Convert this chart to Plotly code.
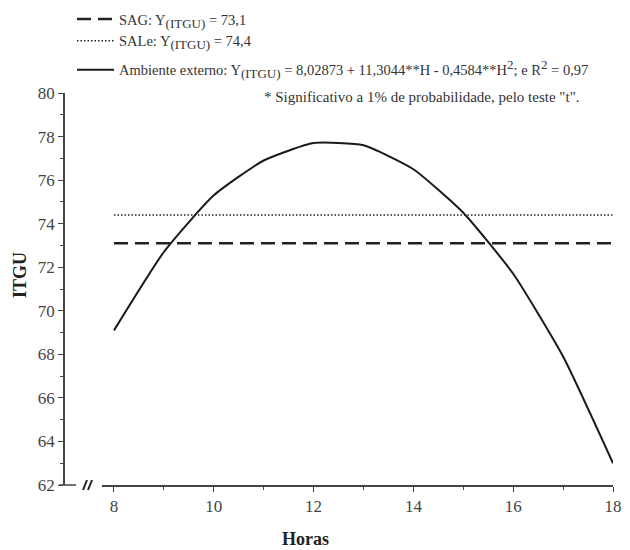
import plotly.graph_objects as go

# values
horas = [8, 9, 10, 11, 12, 13, 14, 15, 16, 17, 18]
itgu_externo = [69.1, 72.7, 75.3, 76.9, 77.7, 77.6, 76.5, 74.5, 71.7, 67.9, 63.0]
sag_x = [8, 18]
sag_y = [73.1, 73.1]
sale_x = [8, 18]
sale_y = [74.4, 74.4]

sub = '<sub><span style="font-size:13px">(ITGU)</span></sub>'
sq = '<sup><span style="font-size:13px">2</span></sup>'
nome_sag = "SAG: Y" + sub + " = 73,1"
nome_sale = "SALe: Y" + sub + " = 74,4"
nome_ext = ("Ambiente externo: Y" + sub + " = 8,02873 + 11,3044**H - 0,4584**H" + sq
            + "; e R" + sq + " = 0,97")

serif = "Liberation Serif"
OFF = 8  # page body margin
W, H = 630 - OFF, 550 - OFF
L, R, T, B = 56, 17, 85, 65
pw = W - L - R
ph = H - T - B


# screen pixel -> paper fraction
def px(x):
    return (x - OFF - L) / pw


def py(y):
    return (H - B - (y - OFF)) / ph


fig = go.Figure()
fig.add_trace(go.Scatter(x=sag_x, y=sag_y, mode="lines", name=nome_sag, legendgroup="a",
                         line=dict(color="#222", width=2.5, dash="14px,7px")))
fig.add_trace(go.Scatter(x=sale_x, y=sale_y, mode="lines", name=nome_sale, legendgroup="a",
                         line=dict(color="#222", width=1.6, dash="1.5px,2px")))
fig.add_trace(go.Scatter(x=horas, y=itgu_externo, mode="lines", name=nome_ext, legendgroup="b",
                         line=dict(color="#1a1a1a", width=2, shape="spline", smoothing=0.5)))

fig.update_layout(
    width=W, height=H,
    margin=dict(l=L, r=R, t=T, b=B, autoexpand=False),
    plot_bgcolor="white", paper_bgcolor="white",
    font=dict(family=serif, color="#444", size=17),
    showlegend=True,
    legend=dict(x=px(72), y=py(3), xanchor="left", yanchor="top",
                font=dict(size=14.5, color="#333"), bgcolor="rgba(0,0,0,0)",
                itemwidth=37, tracegroupgap=7, traceorder="grouped"),
)

fig.update_xaxes(
    domain=[px(102), 1], range=[7.76, 18],
    showline=True, linecolor="#444", linewidth=1.5,
    ticks="outside", ticklen=5, tickcolor="#444", tickvals=[8, 10, 12, 14, 16, 18],
    minor=dict(ticks="outside", ticklen=3, tickvals=[9, 11, 13, 15, 17], tickcolor="#444"),
    showgrid=False, zeroline=False,
)
fig.update_yaxes(
    anchor="free", position=0, range=[62, 80],
    showline=True, linecolor="#444", linewidth=1.5,
    ticks="outside", ticklen=5, tickcolor="#444", dtick=2,
    minor=dict(ticks="outside", ticklen=3, dtick=1, tickcolor="#444"),
    showgrid=False, zeroline=False,
)

# axis titles
fig.add_annotation(text="<b>ITGU</b>", xref="paper", yref="paper", x=px(20), y=py(275),
                   xanchor="center", yanchor="middle",
                   textangle=-90, showarrow=False, font=dict(size=18, color="#222"))
fig.add_annotation(text="<b>Horas</b>", xref="paper", yref="paper", x=px(305), y=py(539),
                   xanchor="center", yanchor="middle",
                   showarrow=False, font=dict(size=18, color="#222"))
fig.add_annotation(text="* Significativo a 1% de probabilidade, pelo teste \"t\".",
                   xref="paper", yref="paper", x=px(262), y=py(97), xanchor="left",
                   yanchor="middle", showarrow=False, font=dict(size=15, color="#333"))

# axis break marks
fig.add_shape(type="line", xref="paper", yref="paper", x0=px(59), x1=px(76),
              y0=py(485), y1=py(485), line=dict(color="#444", width=1.5))
for xb in (83, 88):
    fig.add_shape(type="line", xref="paper", yref="paper", x0=px(xb), x1=px(xb + 4),
                  y0=py(490), y1=py(480), line=dict(color="#222", width=2))

fig.write_html("out.html")
